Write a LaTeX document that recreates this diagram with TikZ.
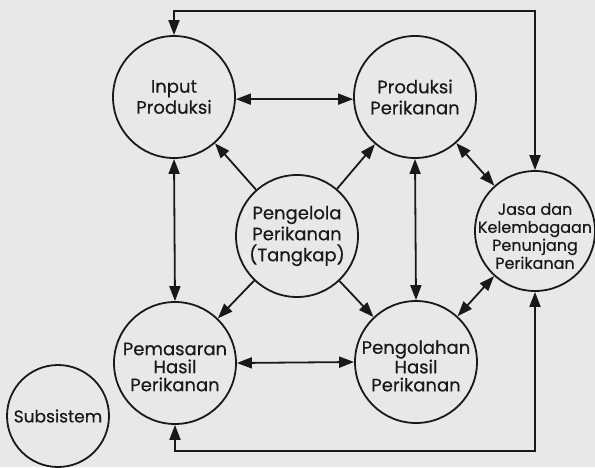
\documentclass[tikz,border=0pt]{standalone}
\usepackage{fontspec}
\setmainfont{Poppins}[FakeBold=0.4]
\usetikzlibrary{arrows.meta}
\definecolor{bg}{RGB}{232,232,230}
\definecolor{ink}{RGB}{25,25,25}
\begin{document}
\begin{tikzpicture}[x=1pt,y=-1pt,
  circ/.style={circle,draw=ink,line width=1.8pt,inner sep=0pt,minimum size=122pt,align=center,
    font=\fontsize{18}{21}\selectfont,text=ink},
  txt/.style={inner sep=0pt,align=center,text=ink,font=\fontsize{18}{18}\selectfont},
  tip/.tip={Triangle[length=15pt,width=11pt]},
  link/.style={draw=ink,line width=1.8pt,tip-tip},
  one/.style={draw=ink,line width=1.8pt,-tip}]
\fill[bg] (0,0) rectangle (595,467);
\useasboundingbox (0,0) rectangle (595,467);

\node[circ] (inp) at (174,97) {Input\\Produksi};
\node[circ] (prod) at (415,97) {Produksi\\Perikanan};
\node[circ] (pen) at (297,236) {Pengelola\\Perikanan\\(Tangkap)};
\node[circ] (pem) at (175,363) {};
\node[txt] (pemt) at ([yshift=-4pt]pem.center) {Pemasaran\\Hasil\\Perikanan};
\node[circ] (olah) at (416,362) {};
\node[txt] (olaht) at ([yshift=-4pt]olah.center) {Pengolahan\\Hasil\\Perikanan};
\node[circ,minimum size=120pt] (jasa) at (535,231) {};
\node[txt,font=\fontsize{16}{18}\selectfont] (jasat) at ([yshift=-5pt]jasa.center) {Jasa dan\\Kelembagaan\\Penunjang\\Perikanan};
\node[circ,minimum size=102pt,font=\fontsize{17}{20}\selectfont] (sub) at (58,416) {Subsistem};

\coordinate (tl) at (174,11);
\coordinate (bl) at (175,451);

\draw[link] (inp.-2) -- (prod.182);
\draw[link] (pem.east) -- (olah.west);
\draw[link] (inp.south) -- (pem.north);
\draw[link] (prod.south) -- (olah.north);
\draw[one] (pen) -- (inp);
\draw[one] (pen) -- (prod);
\draw[one] (pen) -- (pem);
\draw[one] (pen) -- (olah);
\draw[link] (prod) -- (jasa);
\draw[link] (olah) -- (jasa);
\draw[link] (inp.north) -- (inp.north |- tl) -| (jasa.north);
\draw[link] (pem.south) -- (pem.south |- bl) -| (jasa.south);
\end{tikzpicture}
\end{document}
